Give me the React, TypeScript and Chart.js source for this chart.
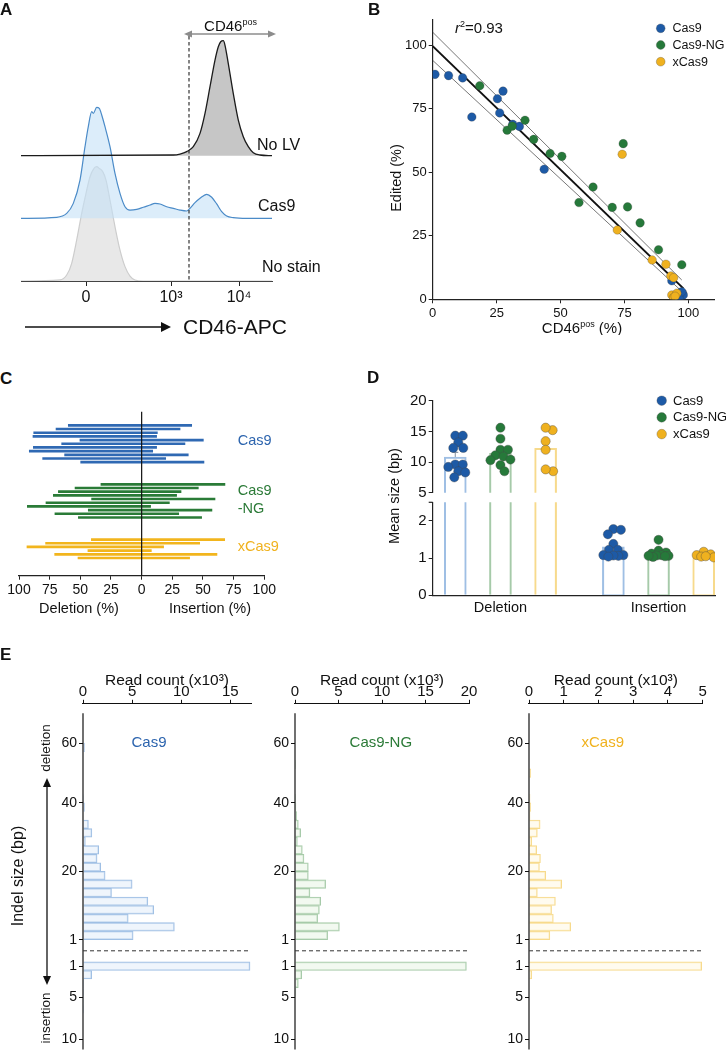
import React, { useEffect, useRef } from "react";
import { Chart, registerables } from "chart.js";

Chart.register(...registerables);

const FONT = '"Liberation Sans", Arial, Helvetica, sans-serif';
Chart.defaults.font.family = FONT;
Chart.defaults.color = "#111";

/* ======================= DATA ======================= */

// ---- Panel A : flow cytometry overlays (x = display channel, d = % of mode)
const aTickValues = [65, 150, 218];
const aTickLabels = ["0", "10³", "10⁴"];
const gateChannel = 168;
const gateArrowEnd = 255;
const ridgeOffsets = [0, 54.5, 109]; // No stain, Cas9, No LV
const noStainX = [0, 39, 45.7, 50.7, 55.7, 60.7, 65, 69, 73, 75.7, 78.3, 81.7, 85, 89, 94, 99, 104, 109, 114, 122.3, 251];
const noStainD = [0, 0.9, 5.2, 15.4, 35.7, 58.8, 76.2, 90.7, 97.9, 99.4, 97.9, 95.1, 87.8, 70.4, 47.2, 26.9, 12.5, 4.3, 0.9, 0, 0];
const cas9AX = [0, 35.7, 45.7, 52.3, 59, 64, 67.3, 70.7, 72.3, 75.7, 78.3, 80.7, 84, 89, 94, 99, 104, 109, 115.7, 122.3, 129, 134, 139, 145.7, 152.3, 159, 165.7, 169, 174, 179, 185.7, 190.7, 195.7, 200.7, 205.7, 212.3, 225.7, 251];
const cas9AD = [0, 0.9, 4.3, 13, 33.3, 62.3, 79.7, 92.8, 91.3, 96.5, 95.7, 89.9, 79.7, 62.3, 39.1, 21.7, 10.1, 7.2, 7.8, 9.6, 11.6, 13, 12.5, 10.1, 8.7, 7.2, 6.4, 8.7, 13.6, 17.4, 20.9, 18.3, 12.5, 5.8, 2, 0.6, 0, 0];
const noLvX = [0, 152.3, 159, 165.7, 172.3, 179, 184, 189, 194, 197.3, 199.7, 202.3, 204, 207.3, 212.3, 217.3, 222.3, 227.3, 232.3, 239, 251];
const noLvD = [0, 0.6, 1.4, 3.5, 7.8, 19.4, 36.8, 60, 83.2, 94.8, 99.1, 100, 96, 80, 54, 31, 16.5, 7.8, 2.6, 0.6, 0];

// ---- Panel B : CD46pos vs edited
const bTicks = [0, 25, 50, 75, 100];
const bCas9X = [0.9, 6.2, 11.7, 15.3, 25.3, 27.5, 26.2, 31.3, 33.9, 43.6, 93.5, 96.8, 97.7, 95.9, 97.2, 98.0, 96.4, 97.4];
const bCas9Y = [88.6, 88.1, 87.2, 71.8, 79.0, 82.0, 73.4, 68.9, 68.1, 51.2, 7.3, 2.6, 2.4, 1.3, 1.0, 1.7, 0.4, 3.0];
const bNgX = [18.4, 29.1, 31.1, 36.1, 39.5, 45.9, 50.5, 57.2, 62.7, 70.2, 76.2, 74.5, 81.1, 88.3, 97.4];
const bNgY = [84.1, 66.6, 68.2, 70.5, 63.0, 57.4, 56.3, 38.1, 44.2, 36.2, 36.4, 61.3, 30.1, 19.5, 13.6];
const bXcX = [74.1, 72.2, 85.8, 91.2, 93.1, 94.2, 93.5, 94.2, 95.5, 94.8];
const bXcY = [57.1, 27.3, 15.5, 13.8, 9.2, 8.5, 1.7, 0.7, 2.4, 1.2];
const fitX = [0, 98];
const fitY = [99.7, 4.3];
const bandHiX = [0, 97.4];
const bandHiY = [105.2, 7.6];
const bandLoX = [0, 96.8];
const bandLoY = [94.1, 3.7];
const rSquared = "0.93";
const enzymes = ["Cas9", "Cas9-NG", "xCas9"];

// ---- Panel C : deletion / insertion share per sample (%)
const cTicks = [-100, -75, -50, -25, 0, 25, 50, 75, 100];
const cCas9Del = [59.8, 69.8, 88.0, 88.6, 50.3, 65.2, 88.3, 91.6, 62.8, 80.7, 49.7];
const cCas9Ins = [40.8, 31.3, 12.8, 12.2, 50.3, 35.3, 12.2, 9.0, 38.0, 19.6, 50.8];
const cNgDel = [33.2, 54.3, 67.9, 72.0, 40.8, 78.0, 93.2, 43.5, 70.7, 51.6];
const cNgIns = [67.9, 46.2, 32.1, 28.5, 59.8, 22.6, 7.3, 57.3, 30.2, 48.9];
const cXDel = [41.0, 78.3, 93.5, 43.8, 70.9, 51.9];
const cXIns = [67.7, 47.3, 17.9, 7.9, 61.4, 39.1];
const cGapRows = 5;

// ---- Panel D : mean indel size (bp)
const dGroups = ["Deletion", "Insertion"];
const dGroupX = [0, 3.5];
const dDelCas9 = [14.3, 14.3, 13.2, 12.3, 12.3, 9.6, 9.2, 9.6, 8.5, 8.3, 7.5];
const dDelNG = [15.6, 13.8, 12.0, 12.0, 11.1, 10.9, 10.3, 10.4, 9.5, 8.5];
const dDelX = [15.2, 15.6, 13.4, 12.0, 8.5, 8.8];
const dInsCas9 = [1.78, 1.76, 1.64, 1.38, 1.22, 1.22, 1.08, 1.06, 1.08, 1.07, 1.04];
const dInsNG = [1.49, 1.2, 1.15, 1.12, 1.08, 1.06, 1.07, 1.05, 1.03, 1.06];
const dInsX = [1.17, 1.08, 1.1, 1.02, 1.04, 1.05];
const dUpperTicks = [5, 10, 15, 20];
const dLowerTicks = [0, 1, 2];

// ---- Panel E : read counts (x10^3) per indel-size bin
const eCas9Del = [5.1, 9.3, 4.6, 7.2, 6.6, 2.9, 5.0, 2.25, 1.8, 1.43, 1.6, 0.24, 0.9, 0.55, 0, 0.15, 0.05, 0, 0, 0, 0, 0, 0.15];
const eCas9Ins = [17.0, 0.88, 0.02, 0.06, 0.05, 0.02, 0, 0, 0, 0];
const eNgDel = [3.75, 5.1, 2.6, 2.8, 2.95, 1.72, 3.52, 1.53, 1.53, 1.03, 0.84, 0.27, 0.65, 0.38, 0.19, 0.11, 0.03, 0, 0, 0, 0.03, 0, 0];
const eNgIns = [19.7, 0.77, 0.38, 0.1, 0, 0, 0, 0, 0, 0];
const eXDel = [0.6, 1.2, 0.7, 0.65, 0.76, 0.24, 0.94, 0.48, 0.3, 0.33, 0.22, 0.08, 0.24, 0.32, 0.03, 0.05, 0.03, 0, 0, 0.05, 0, 0, 0];
const eXIns = [4.97, 0.08, 0, 0, 0, 0, 0, 0, 0, 0];
const eCas9Ticks = [0, 5, 10, 15];
const eNgTicks = [0, 5, 10, 15, 20];
const eXTicks = [0, 1, 2, 3, 4, 5];
const eTickRows = [23, 16, 8, 0, -3.1, -6.74, -11.69];
const eTickLabels = ["60", "40", "20", "1", "1", "5", "10"];
const eRowGap = 2.6;
const eYMin = -12.86;
const eYMax = 27.66;

/* ======================= STYLE ======================= */
const DOT: any = { cas9: "#1d5aa6", ng: "#26793a", x: "#efb11f" };
const LINE: any = { cas9: "#2f69b3", ng: "#2a7b37", x: "#f2b51d" };
const LIGHT: any = { cas9: "#9fbfe4", ng: "#a6caa9", x: "#f7da8c" };
const PALE: any = { cas9: "rgba(228,239,250,0.6)", ng: "rgba(234,245,230,0.6)", x: "rgba(255,248,228,0.6)" };
const TXT: any = { cas9: "#2c64ae", ng: "#2b7a37", x: "#f0b21f" };
const KEYS = ["cas9", "ng", "x"];

const common: any = {
  responsive: false,
  animation: false,
  events: [],
  plugins: { legend: { display: false }, tooltip: { enabled: false } },
};

const fixed = (vals: number[]) => (s: any) => {
  s.ticks = vals.map((v) => ({ value: v }));
};
const mean = (a: number[]) => a.reduce((p, c) => p + c, 0) / a.length;
const sem = (a: number[]) => {
  const m = mean(a);
  const v = a.reduce((p, c) => p + (c - m) * (c - m), 0) / (a.length - 1);
  return Math.sqrt(v / a.length);
};

/* ======================= DRAW HELPERS ======================= */
function txt(ctx: any, s: string, x: number, y: number, size: number, color = "#111", align = "left", baseline = "middle", weight = "normal") {
  ctx.save();
  ctx.font = `${weight} ${size}px ${FONT}`;
  ctx.fillStyle = color;
  ctx.textAlign = align;
  ctx.textBaseline = baseline;
  ctx.fillText(s, x, y);
  ctx.restore();
}
function vtxt(ctx: any, s: string, x: number, y: number, size: number) {
  ctx.save();
  ctx.translate(x, y);
  ctx.rotate(-Math.PI / 2);
  ctx.font = `${size}px ${FONT}`;
  ctx.fillStyle = "#111";
  ctx.textAlign = "center";
  ctx.textBaseline = "middle";
  ctx.fillText(s, 0, 0);
  ctx.restore();
}
function rich(ctx: any, parts: any[], x: number, y: number, size: number, align = "left", color = "#111") {
  ctx.save();
  const f = (p: any) => `${p.it ? "italic " : ""}${p.sup ? Math.round(size * 0.62) : size}px ${FONT}`;
  let w = 0;
  for (const p of parts) {
    ctx.font = f(p);
    w += ctx.measureText(p.t).width;
  }
  let cx = align === "center" ? x - w / 2 : align === "right" ? x - w : x;
  ctx.fillStyle = color;
  ctx.textAlign = "left";
  ctx.textBaseline = "alphabetic";
  for (const p of parts) {
    ctx.font = f(p);
    ctx.fillText(p.t, cx, p.sup ? y - size * 0.4 : y);
    cx += ctx.measureText(p.t).width;
  }
  ctx.restore();
}
function seg(ctx: any, x1: number, y1: number, x2: number, y2: number, color: string, w: number, dash: number[] = []) {
  ctx.save();
  ctx.strokeStyle = color;
  ctx.lineWidth = w;
  ctx.setLineDash(dash);
  ctx.beginPath();
  ctx.moveTo(x1, y1);
  ctx.lineTo(x2, y2);
  ctx.stroke();
  ctx.restore();
}
function head(ctx: any, x: number, y: number, dx: number, dy: number, len: number, half: number, color: string) {
  ctx.save();
  ctx.fillStyle = color;
  ctx.beginPath();
  ctx.moveTo(x, y);
  ctx.lineTo(x - dx * len - dy * half, y - dy * len + dx * half);
  ctx.lineTo(x - dx * len + dy * half, y - dy * len - dx * half);
  ctx.closePath();
  ctx.fill();
  ctx.restore();
}
function dot(ctx: any, x: number, y: number, r: number, color: string) {
  ctx.save();
  ctx.fillStyle = color;
  ctx.strokeStyle = "rgba(70,70,70,0.5)";
  ctx.lineWidth = 0.6;
  ctx.beginPath();
  ctx.arc(x, y, r, 0, Math.PI * 2);
  ctx.fill();
  ctx.stroke();
  ctx.restore();
}

function swarm(vals: number[], yPx: number, xPx: number, r: number) {
  const order = vals.map((_, i) => i).sort((a, b) => vals[b] - vals[a]);
  const placed: any[] = [];
  const out = vals.map(() => 0);
  const minD = 2 * r * 0.8;
  for (const i of order) {
    const y = vals[i] * yPx;
    let best = 0;
    let bestD = -1;
    for (let k = 0; k <= 40; k++) {
      const off = (k % 2 ? 1 : -1) * Math.ceil(k / 2) * 0.5;
      let d = Infinity;
      for (const p of placed) d = Math.min(d, Math.hypot(p.x - off, p.y - y));
      if (d >= minD) {
        best = off;
        break;
      }
      if (d > bestD) {
        bestD = d;
        best = off;
      }
    }
    placed.push({ x: best, y });
    out[i] = best / xPx;
  }
  return out;
}

/* ======================= PANEL A ======================= */
function buildA() {
  const mk = (xs: number[], ds: number[], off: number) => xs.map((x, i) => ({ x, y: off + ds[i] }));
  const line = { pointRadius: 0, cubicInterpolationMode: "monotone" };
  return {
    type: "line",
    data: {
      datasets: [
        { ...line, data: mk(noLvX, noLvD, ridgeOffsets[2]), borderColor: "#1b1b1b", borderWidth: 1.3, backgroundColor: "#c6c6c6", fill: { value: ridgeOffsets[2] } },
        { ...line, data: mk(cas9AX, cas9AD, ridgeOffsets[1]), borderColor: "#4b8bc8", borderWidth: 1.2, backgroundColor: "rgba(196,225,246,0.6)", fill: { value: ridgeOffsets[1] } },
        { ...line, data: mk(noStainX, noStainD, ridgeOffsets[0]), borderColor: "#cdcdcd", borderWidth: 1.2, backgroundColor: "rgba(214,214,214,0.55)", fill: { value: ridgeOffsets[0] } },
      ],
    },
    options: {
      ...common,
      layout: { padding: { left: 21, right: 73, top: 20, bottom: 35 } },
      scales: {
        x: {
          type: "linear", min: 0, max: 251,
          afterBuildTicks: fixed(aTickValues),
          afterFit: (s: any) => { s.height = 24; },
          ticks: { callback: (v: number) => aTickLabels[aTickValues.indexOf(v)], font: { size: 16 }, color: "#111", padding: 2, autoSkip: false, maxRotation: 0 },
          grid: { drawOnChartArea: false, tickLength: 5, color: "#222" },
          border: { color: "#444", width: 1 },
        },
        y: { type: "linear", min: 0, max: 227, display: false },
      },
    },
    plugins: [
      {
        id: "aExtras",
        afterDatasetsDraw(chart: any) {
          const { ctx, chartArea: ca, scales } = chart;
          const gx = scales.x.getPixelForValue(gateChannel);
          const ex = scales.x.getPixelForValue(gateArrowEnd);
          seg(ctx, gx, 36, gx, ca.bottom, "#222", 1.1, [3.5, 2.5]);
          seg(ctx, gx - 2, 34, ex - 4, 34, "#8c8c8c", 1.3);
          head(ctx, gx - 5, 34, -1, 0, 8, 3.5, "#8c8c8c");
          head(ctx, ex, 34, 1, 0, 8, 3.5, "#8c8c8c");
          rich(ctx, [{ t: "CD46" }, { t: "pos", sup: true }], (gx + ex) / 2 - 2, 31, 15, "center");
          txt(ctx, "No LV", 257, 146, 16);
          txt(ctx, "Cas9", 258, 207, 16);
          txt(ctx, "No stain", 262, 268, 16);
          seg(ctx, 25, 327, 163, 327, "#111", 1.3);
          head(ctx, 171, 327, 1, 0, 10, 5, "#111");
          txt(ctx, "CD46-APC", 183, 328, 21);
        },
      },
    ],
  };
}

/* ======================= PANEL B ======================= */
function buildB() {
  const pts = (xs: number[], ys: number[]) => xs.map((x, i) => ({ x, y: ys[i] }));
  const lineDs = (xs: number[], ys: number[], color: string, w: number) => ({
    data: pts(xs, ys), showLine: true, borderColor: color, borderWidth: w, pointRadius: 0, order: 5,
  });
  const dotDs = (xs: number[], ys: number[], key: string) => ({
    data: pts(xs, ys), backgroundColor: DOT[key], borderColor: "rgba(60,60,60,0.45)", borderWidth: 0.6, pointRadius: 4.3, order: 1,
  });
  const axis = (ticks: number[], fit: any) => ({
    type: "linear", min: 0, max: 110,
    afterBuildTicks: fixed(ticks), afterFit: fit,
    ticks: { font: { size: 13 }, color: "#111", padding: 2, autoSkip: false, maxRotation: 0 },
    grid: { drawOnChartArea: false, tickLength: 4, color: "#222" },
    border: { color: "#222", width: 1.2 },
  });
  return {
    type: "scatter",
    data: {
      datasets: [
        lineDs(bandHiX, bandHiY, "#555", 0.8),
        lineDs(bandLoX, bandLoY, "#555", 0.8),
        lineDs(fitX, fitY, "#111", 2),
        dotDs(bXcX, bXcY, "x"),
        dotDs(bNgX, bNgY, "ng"),
        dotDs(bCas9X, bCas9Y, "cas9"),
      ],
    },
    options: {
      ...common,
      layout: { padding: { left: 0, right: 12, top: 20, bottom: 7.7 } },
      scales: {
        x: axis(bTicks, (s: any) => { s.height = 28; }),
        y: axis(bTicks, (s: any) => { s.width = 72.7; }),
      },
    },
    plugins: [
      {
        id: "bExtras",
        afterDraw(chart: any) {
          const { ctx } = chart;
          rich(ctx, [{ t: "CD46" }, { t: "pos", sup: true }, { t: " (%)" }], 222, 333, 15, "center");
          vtxt(ctx, "Edited (%)", 36.7, 178, 14.5);
          rich(ctx, [{ t: "r", it: true }, { t: "2", sup: true }, { t: "=" + rSquared }], 95, 32.5, 15);
          KEYS.forEach((k, i) => {
            dot(ctx, 300.7, 28.3 + i * 16.7, 4.4, DOT[k]);
            txt(ctx, enzymes[i], 312.5, 28.8 + i * 16.7, 12.5);
          });
        },
      },
    ],
  };
}

/* ======================= PANEL C ======================= */
function buildC() {
  const groups = [
    { key: "cas9", del: cCas9Del, ins: cCas9Ins },
    { key: "ng", del: cNgDel, ins: cNgIns },
    { key: "x", del: cXDel, ins: cXIns },
  ];
  let start = 0;
  const starts: number[] = [];
  groups.forEach((g) => {
    starts.push(start);
    start += g.del.length + cGapRows;
  });
  return {
    type: "bar",
    data: {
      datasets: groups.map((g, gi) => ({
        data: g.del.map((d, i) => ({ y: starts[gi] + i, x: [-d, g.ins[i]] })),
        backgroundColor: LINE[g.key],
        borderWidth: 0,
        barThickness: 2,
        grouped: false,
      })),
    },
    options: {
      ...common,
      indexAxis: "y",
      layout: { padding: { left: 19, right: 95.7, top: 16.7, bottom: 22.3 } },
      scales: {
        x: {
          type: "linear", min: -100, max: 100,
          afterBuildTicks: fixed(cTicks),
          afterFit: (s: any) => { s.height = 22; },
          ticks: { callback: (v: number) => String(Math.abs(v)), font: { size: 14 }, color: "#111", padding: 2, autoSkip: false, maxRotation: 0 },
          grid: { drawOnChartArea: false, tickLength: 4, color: "#222" },
          border: { color: "#222", width: 1.2 },
        },
        y: { type: "linear", reverse: true, min: -3.7, max: 40.8, offset: false, display: false },
      },
    },
    plugins: [
      {
        id: "cExtras",
        afterDatasetsDraw(chart: any) {
          const { ctx, chartArea: ca, scales } = chart;
          const x0 = scales.x.getPixelForValue(0);
          seg(ctx, x0, ca.top, x0, ca.bottom, "#111", 1.2);
          const mid = (gi: number) => scales.y.getPixelForValue(starts[gi] + (groups[gi].del.length - 1) / 2);
          txt(ctx, "Cas9", 237.7, mid(0) - 3, 14.5, TXT.cas9);
          txt(ctx, "Cas9", 237.7, mid(1) - 10, 14.5, TXT.ng);
          txt(ctx, "-NG", 237.7, mid(1) + 8, 14.5, TXT.ng);
          txt(ctx, "xCas9", 237.7, mid(2) - 1.5, 14.5, TXT.x);
          txt(ctx, "Deletion (%)", 79, 214, 14.5, "#111", "center");
          txt(ctx, "Insertion (%)", 210, 214, 14.5, "#111", "center");
        },
      },
    ],
  };
}

/* ======================= PANEL D ======================= */
const D_XPX = 45.17;
function buildD(upper: boolean) {
  const groups = [
    { key: "cas9", del: dDelCas9, ins: dInsCas9 },
    { key: "ng", del: dDelNG, ins: dInsNG },
    { key: "x", del: dDelX, ins: dInsX },
  ];
  const yPx = upper ? 6.2 : 37.2;
  const bars = groups.map((g, e) => ({
    type: "bar",
    data: [
      { x: dGroupX[0] + e, y: mean(g.del) },
      { x: dGroupX[1] + e, y: mean(g.ins) },
    ],
    backgroundColor: "rgba(255,255,255,0)",
    borderColor: LIGHT[g.key],
    borderWidth: 1.4,
    barThickness: 22,
    grouped: false,
    clip: 0,
    order: 3,
  }));
  const dots = groups.map((g, e) => {
    const vals = upper ? g.del : g.ins;
    const jit = swarm(vals, yPx, D_XPX, 4.6);
    return {
      type: "scatter",
      data: vals.map((v, i) => ({ x: dGroupX[upper ? 0 : 1] + e + jit[i], y: v })),
      backgroundColor: DOT[g.key],
      borderColor: "rgba(70,70,70,0.55)",
      borderWidth: 0.7,
      pointRadius: 4.6,
      order: 1,
    };
  });
  const yTicks = upper ? dUpperTicks : dLowerTicks;
  const xTickVals = dGroupX.map((g) => g + 1);
  const xScale: any = upper
    ? { type: "linear", min: -0.5, max: 5.75, offset: false, display: false }
    : {
        type: "linear", min: -0.5, max: 5.75, offset: false,
        afterBuildTicks: fixed(xTickVals),
        afterFit: (s: any) => { s.height = 20; },
        ticks: { callback: (v: number) => dGroups[xTickVals.indexOf(v)], font: { size: 14.5 }, color: "#111", padding: 4, autoSkip: false, maxRotation: 0 },
        grid: { display: false, drawTicks: false, offset: false },
        border: { color: "#222", width: 1.2 },
      };
  return {
    type: "bar",
    data: { datasets: [...bars, ...dots] },
    options: {
      ...common,
      layout: upper
        ? { padding: { left: 0, right: 11, top: 15.7, bottom: 127.3 } }
        : { padding: { left: 0, right: 11, top: 22.3, bottom: 4.7 } },
      scales: {
        x: xScale,
        y: {
          type: "linear", min: upper ? 5 : 0, max: upper ? 20 : 2.5,
          afterBuildTicks: fixed(yTicks),
          afterFit: (s: any) => { s.width = 72.7; },
          ticks: { font: { size: 15 }, color: "#111", padding: 2, autoSkip: false },
          grid: { drawOnChartArea: false, tickLength: 4, color: "#222" },
          border: { color: "#222", width: 1.2 },
        },
      },
    },
    plugins: [
      {
        id: "dExtras",
        beforeDatasetsDraw(chart: any) {
          const { ctx, scales } = chart;
          const ca = chart.chartArea;
          groups.forEach((g, e) => {
            [g.del, g.ins].forEach((vals, gi) => {
              const m = mean(vals);
              const s = sem(vals);
              const x = scales.x.getPixelForValue(dGroupX[gi] + e);
              const y1 = scales.y.getPixelForValue(m);
              const y2 = scales.y.getPixelForValue(m + s);
              ctx.save();
              ctx.beginPath();
              ctx.rect(ca.left, ca.top, ca.right - ca.left, ca.bottom - ca.top);
              ctx.clip();
              seg(ctx, x, y1, x, y2, "#8d99a8", 1.1);
              seg(ctx, x - 3, y2, x + 3, y2, "#8d99a8", 1.1);
              ctx.restore();
            });
          });
        },
        afterDraw(chart: any) {
          const { ctx, chartArea: ca } = chart;
          if (upper) {
            KEYS.forEach((k, i) => {
              dot(ctx, 301.7, 15.7 + i * 16.7, 4.8, DOT[k]);
              txt(ctx, enzymes[i], 313, 16.2 + i * 16.7, 13);
            });
            vtxt(ctx, "Mean size (bp)", 35, 111, 14.5);
          } else {
            seg(ctx, ca.left - 4, ca.top, ca.left, ca.top, "#222", 1.2);
          }
        },
      },
    ],
  };
}

/* ======================= PANEL E ======================= */
function buildE(cfg: any) {
  const data = [
    ...cfg.del.map((v: number, k: number) => ({ y: k + 0.5, x: v })),
    ...cfg.ins.map((v: number, j: number) => ({ y: -(eRowGap + j + 0.5), x: v })),
  ];
  return {
    type: "bar",
    data: {
      datasets: [
        {
          data,
          backgroundColor: PALE[cfg.key],
          borderColor: LIGHT[cfg.key],
          borderWidth: 1,
          barPercentage: 1,
          categoryPercentage: 1,
          borderSkipped: "start",
        },
      ],
    },
    options: {
      ...common,
      indexAxis: "y",
      layout: { padding: { left: 0, right: cfg.padR, top: 33.3, bottom: 10 } },
      scales: {
        x: {
          type: "linear", position: "top", min: 0, max: cfg.max,
          afterBuildTicks: fixed(cfg.ticks),
          afterFit: (s: any) => { s.height = 30; },
          ticks: { font: { size: 15, lineHeight: 1 }, color: "#111", padding: 0, autoSkip: false, maxRotation: 0 },
          grid: { drawOnChartArea: false, tickLength: 3.5, color: "#111" },
          border: { color: "#111", width: 1.1 },
        },
        y: {
          type: "linear", min: eYMin, max: eYMax, offset: false,
          afterBuildTicks: fixed(eTickRows),
          afterFit: (s: any) => { s.width = cfg.yw; },
          ticks: { callback: (v: number) => eTickLabels[eTickRows.indexOf(v)], font: { size: 14 }, color: "#111", padding: 2, autoSkip: false },
          grid: { drawOnChartArea: false, tickLength: 4, color: "#111", offset: false },
          border: { display: false },
        },
      },
    },
    plugins: [
      {
        id: "eExtras",
        afterDraw(chart: any) {
          const { ctx, chartArea: ca, scales } = chart;
          const ys = scales.y;
          seg(ctx, ca.left, ca.top + 10, ca.left, ca.bottom, "#111", 1.2);
          const yd = (ys.getPixelForValue(0) + ys.getPixelForValue(-eRowGap)) / 2;
          seg(ctx, ca.left, yd, ca.right, yd, "#333", 1, [4, 3]);
          txt(ctx, "Read count (x10³)", (ca.left + ca.right) / 2, ca.top - 23, 15.5, "#111", "center");
          txt(ctx, cfg.label, cfg.labelX, ys.getPixelForValue(23), 15, TXT[cfg.key], "center");
          if (cfg.first) {
            vtxt(ctx, "Indel size (bp)", 19, 236, 16);
            vtxt(ctx, "deletion", 46, 108, 13.5);
            vtxt(ctx, "insertion", 46, 378, 13.5);
            seg(ctx, 47, 145, 47, 338, "#111", 1.3);
            head(ctx, 47, 138, 0, -1, 9, 4, "#111");
            head(ctx, 47, 345, 0, 1, 9, 4, "#111");
          }
        },
      },
    ],
  };
}

/* ======================= COMPONENTS ======================= */
function ChartCanvas({ left, top, width, height, build }: any) {
  const ref = useRef<HTMLCanvasElement>(null);
  useEffect(() => {
    const chart = new Chart(ref.current as any, build());
    return () => chart.destroy();
  }, []);
  return (
    <canvas
      ref={ref}
      width={width}
      height={height}
      style={{ position: "absolute", left, top, width, height }}
    />
  );
}

const letters: any[] = [
  ["A", 0, 1],
  ["B", 368, 1],
  ["C", 0, 369.5],
  ["D", 367, 369],
  ["E", 0, 646],
];

export default function App() {
  return (
    <div style={{ position: "absolute", left: 0, top: 0, width: 726, height: 1050, background: "#fff", overflow: "hidden" }}>
      <ChartCanvas left={0} top={0} width={345} height={340} build={buildA} />
      <ChartCanvas left={360} top={0} width={366} height={335} build={buildB} />
      <ChartCanvas left={0} top={395} width={360} height={225} build={buildC} />
      <ChartCanvas left={360} top={385} width={366} height={235} build={() => buildD(true)} />
      <ChartCanvas left={360} top={480} width={366} height={140} build={() => buildD(false)} />
      <ChartCanvas left={0} top={640} width={255} height={420}
        build={() => buildE({ del: eCas9Del, ins: eCas9Ins, ticks: eCas9Ticks, max: 17.1, key: "cas9", label: "Cas9", yw: 83, padR: 4, labelX: 149, first: true })} />
      <ChartCanvas left={250} top={640} width={230} height={420}
        build={() => buildE({ del: eNgDel, ins: eNgIns, ticks: eNgTicks, max: 20, key: "ng", label: "Cas9-NG", yw: 45, padR: 11, labelX: 130.8, first: false })} />
      <ChartCanvas left={480} top={640} width={246} height={420}
        build={() => buildE({ del: eXDel, ins: eXIns, ticks: eXTicks, max: 5, key: "x", label: "xCas9", yw: 49, padR: 23.3, labelX: 122.8, first: false })} />
      {letters.map(([t, l, tp]) => (
        <div key={t} style={{ position: "absolute", left: l, top: tp, font: `bold 17px ${FONT}`, lineHeight: "17px", color: "#111" }}>
          {t}
        </div>
      ))}
    </div>
  );
}
